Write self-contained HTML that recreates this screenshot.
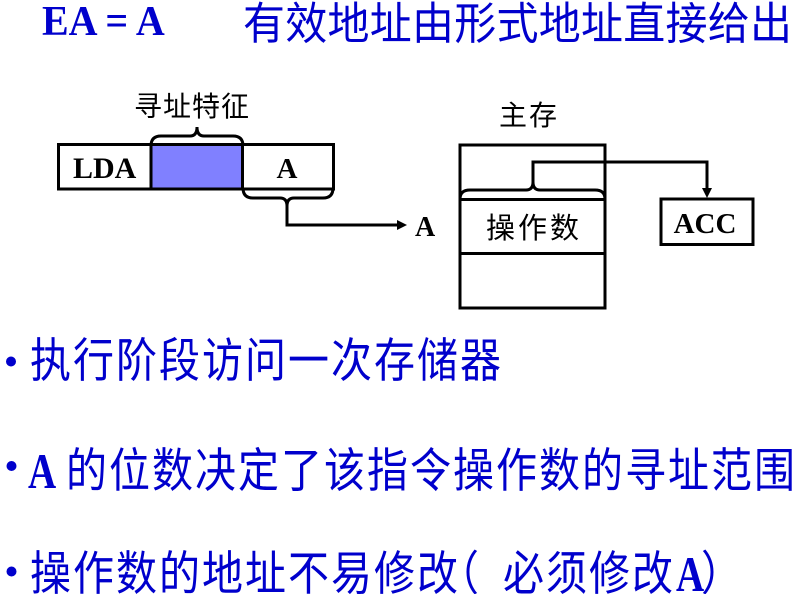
<!DOCTYPE html>
<html>
<head>
<meta charset="utf-8">
<style>
  html, body { margin: 0; padding: 0; background: #ffffff; }
  body { width: 796px; height: 594px; overflow: hidden; }
  svg { display: block; }
  .cjk { font-family: "Liberation Sans", "Noto Sans CJK SC", sans-serif; }
  .ser { font-family: "Liberation Serif", "Noto Serif CJK SC", serif; font-weight: bold; }
</style>
</head>
<body>
<svg width="796" height="594" viewBox="0 0 796 594" xmlns="http://www.w3.org/2000/svg">
  <!-- Title -->
  <g transform="translate(0,35) scale(1,1.06)">
    <text class="ser" x="42" y="0" font-size="40" fill="#0000CC">EA = A</text>
  </g>
  <g transform="translate(0,39) scale(1,1.05)">
    <text class="cjk" y="0" font-size="42" fill="#0000CC"
      x="243 285.25 327.5 369.75 412 454.25 496.5 538.75 581 623.25 665.5 707.75 750">有效地址由形式地址直接给出</text>
  </g>

  <!-- Instruction format -->
  <text class="cjk" x="134" y="116" font-size="28" fill="#000" style="letter-spacing:1px">寻址特征</text>
  <rect x="151" y="144.5" width="91.5" height="44.5" fill="#8080FF"/>
  <rect x="58.5" y="144.5" width="275" height="44.5" fill="none" stroke="#000" stroke-width="3"/>
  <line x1="151" y1="144.5" x2="151" y2="189" stroke="#000" stroke-width="3"/>
  <line x1="242.5" y1="144.5" x2="242.5" y2="189" stroke="#000" stroke-width="3"/>
  <text class="ser" x="73" y="178" font-size="30" fill="#000">LDA</text>
  <text class="ser" x="287" y="178" font-size="29" fill="#000" text-anchor="middle">A</text>

  <!-- top brace -->
  <path d="M151,146 Q151,136 161,136 L190,136 Q197,136 197,127 Q197,136 204,136 L233,136 Q243,136 243,146"
        fill="none" stroke="#000" stroke-width="3"/>
  <!-- bottom brace + connector -->
  <path d="M243,188 Q243,198 253,198 L280,198 Q287,198 287,206 L287,225 L399,225"
        fill="none" stroke="#000" stroke-width="3"/>
  <path d="M287,206 Q287,198 294,198 L323,198 Q333,198 333,188"
        fill="none" stroke="#000" stroke-width="3"/>
  <polygon points="397,220 407,225 397,230" fill="#000"/>
  <text class="ser" x="415" y="236" font-size="28" fill="#000">A</text>

  <!-- Main memory -->
  <text class="cjk" x="499" y="125" font-size="28" fill="#000" style="letter-spacing:2px">主存</text>
  <rect x="460" y="145" width="145" height="163" fill="none" stroke="#000" stroke-width="3"/>
  <line x1="460" y1="199.5" x2="605" y2="199.5" stroke="#000" stroke-width="3"/>
  <line x1="460" y1="253.5" x2="605" y2="253.5" stroke="#000" stroke-width="3"/>
  <text class="cjk" x="486" y="238" font-size="29" fill="#000" style="letter-spacing:3px">操作数</text>

  <!-- memory brace + connector to ACC -->
  <path d="M460,199 Q460,190 470,190 L526,190 Q533,190 533,182 L533,162 L707,162 L707,190"
        fill="none" stroke="#000" stroke-width="3"/>
  <path d="M533,182 Q533,190 540,190 L595,190 Q605,190 605,199"
        fill="none" stroke="#000" stroke-width="3"/>
  <polygon points="702,188 707,198 712,188" fill="#000"/>

  <!-- ACC -->
  <rect x="661" y="199" width="92" height="45.5" fill="none" stroke="#000" stroke-width="3"/>
  <text class="ser" x="705" y="233" font-size="29" fill="#000" text-anchor="middle">ACC</text>

  <!-- Bullets -->
  <circle cx="11" cy="361.5" r="5" fill="#0000CC"/>
  <g transform="translate(0,377) scale(1,1.15)">
    <text class="cjk" y="0" font-size="41" fill="#0000CC"
      x="30 73 116 159 202 245 288 331 374 417 460">执行阶段访问一次存储器</text>
  </g>

  <circle cx="11.5" cy="466" r="5" fill="#0000CC"/>
  <g transform="translate(0,488) scale(1,1.28)">
    <text class="ser" x="28" y="0" font-size="39" fill="#0000CC">A</text>
  </g>
  <g transform="translate(0,487) scale(1,1.15)">
    <text class="cjk" y="0" font-size="41" fill="#0000CC"
      x="66 109 152 195 238 281 324 367 410 453 496 539 582 625 668 711 754">的位数决定了该指令操作数的寻址范围</text>
  </g>

  <circle cx="11.5" cy="571.5" r="5" fill="#0000CC"/>
  <g transform="translate(0,590) scale(1,1.15)">
    <text class="cjk" y="0" font-size="41" fill="#0000CC"
      x="30 73 116 159 202 245 288 331 374 417 438 503 546 589 632">操作数的地址不易修改（必须修改</text>
    <text class="cjk" x="701" y="0" font-size="41" fill="#0000CC">）</text>
  </g>
  <g transform="translate(0,591) scale(1,1.28)">
    <text class="ser" x="676" y="0" font-size="39" fill="#0000CC">A</text>
  </g>
</svg>
</body>
</html>
